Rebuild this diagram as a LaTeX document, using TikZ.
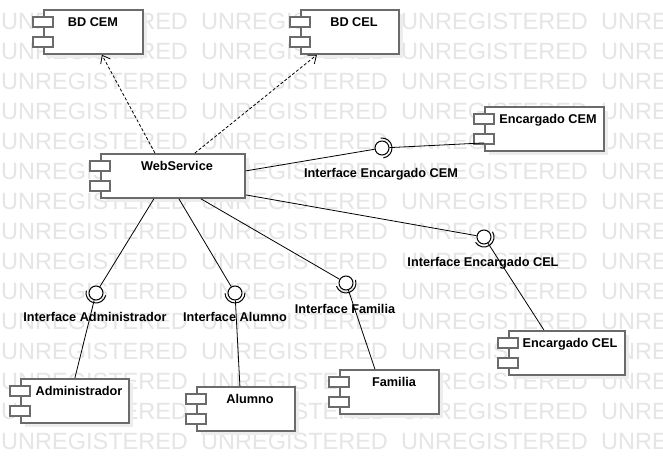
\documentclass[tikz,border=0pt]{standalone}
\usepackage{fontspec}
\setmainfont{Liberation Sans}
\usetikzlibrary{arrows.meta}

\newcommand{\umlcomp}[6]{%
\fill[compshadow] (#2+5,-#3-5) rectangle (#2+#4+5,-#3-49);
\node[compbox, minimum width=#4pt, anchor=north west] (#1) at (#2,-#3) {};
\draw[comptab] (#2-10,-#3-8) rectangle (#2+10,-#3-18);
\draw[comptab] (#2-10,-#3-28) rectangle (#2+10,-#3-38);
\node[complabel] (#1l) at (#5,-#3-17.5) {#6};
}
\newcommand{\socket}[2]{%
\draw[sock] ([shift={(#2+90:10pt)}]#1.center) arc[start angle=#2+90, end angle=#2-90, radius=10pt];
}

\begin{document}
\begin{tikzpicture}[x=1pt,y=1pt,
  wmark/.style={anchor=west, inner sep=0pt, text=black!10, font=\fontsize{23.5}{24}\selectfont},
  compbox/.style={draw=black!58, line width=1.8pt, fill=white, minimum height=44pt, inner sep=0pt},
  comptab/.style={draw=black!58, line width=1.6pt, fill=white},
  compshadow/.style={fill=black!7},
  complabel/.style={anchor=base, inner sep=0pt, font=\bfseries\fontsize{12.7}{14}\selectfont},
  iface/.style={circle, draw, line width=1pt, fill=white, minimum size=14pt, inner sep=0pt},
  sock/.style={line width=1pt},
  conn/.style={line width=0.8pt},
  dep/.style={conn, dash pattern=on 3pt off 2pt, -{Straight Barb[length=7pt,width=11pt]}}]
\useasboundingbox (0,0) rectangle (663,-470);
\fill[white] (0,0) rectangle (663,-470);

% watermark
\begin{scope}
\clip (0,0) rectangle (663,-470);
\foreach \r in {0,...,14}
  \foreach \c in {0,...,3}
    \node[wmark] (wm\r\c) at (200*\c+1,-21-30*\r) {UNREGISTERED};
\end{scope}

% components
\umlcomp{bdcem}{43}{9}{99}{93}{BD CEM}
\umlcomp{bdcel}{300}{9}{98}{354}{BD CEL}
\umlcomp{web}{100}{153}{144}{177}{WebService}
\umlcomp{encem}{484}{106}{119}{548}{Encargado CEM}
\umlcomp{encel}{508}{330}{116}{570}{Encargado CEL}
\umlcomp{admin}{20}{378}{108}{79}{Administrador}
\umlcomp{alumno}{196}{386}{98}{250}{Alumno}
\umlcomp{familia}{339}{369}{99}{394}{Familia}

% interfaces
\node[iface] (iencem) at (382,-148) {};
\node[iface] (iencel) at (484,-237) {};
\node[iface] (iadmin) at (96,-293) {};
\node[iface] (ialumno) at (235,-293) {};
\node[iface] (ifamilia) at (346,-283) {};
\socket{iencem}{8}
\socket{iencel}{-58}
\socket{iadmin}{-104}
\socket{ialumno}{-88}
\socket{ifamilia}{-72}
\node[complabel] (iencemt) at (381,-177.5) {Interface Encargado CEM};
\node[complabel] (iencelt) at (483,-266.5) {Interface Encargado CEL};
\node[complabel] (iadmint) at (95,-321.5) {Interface Administrador};
\node[complabel] (ialumnot) at (235,-321.5) {Interface Alumno};
\node[complabel] (ifamiliat) at (345,-313.5) {Interface Familia};

% connectors
\draw[dep] ([xshift=-18pt]web.north) -- ([xshift=8.5pt]bdcem.south);
\draw[dep] ([xshift=22pt]web.north) -- ([xshift=-33pt]bdcel.south);
\draw[conn] ([yshift=5pt]web.east) -- (iencem);
\draw[conn] (iencem) -- ([yshift=-14pt]encem.west);
\draw[conn] ([yshift=-19pt]web.east) -- (iencel);
\draw[conn] (iencel) -- ([xshift=-23pt]encel.north);
\draw[conn] ([xshift=-19pt]web.south) -- (iadmin);
\draw[conn] (iadmin) -- (admin.north);
\draw[conn] ([xshift=6pt]web.south) -- (ialumno);
\draw[conn] (ialumno) -- ([xshift=-6pt]alumno.north);
\draw[conn] ([xshift=28pt]web.south) -- (ifamilia);
\draw[conn] (ifamilia) -- ([xshift=-14.5pt]familia.north);

\end{tikzpicture}
\end{document}
